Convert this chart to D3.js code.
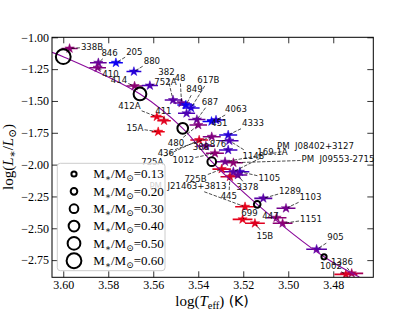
<!DOCTYPE html>
<html>
<head>
<meta charset="utf-8">
<script src="https://cdn.jsdelivr.net/npm/d3@7"></script>
<style>
	body { margin: 0; background: #fff; }
	svg { display: block; }
</style>
</head>
<body>
<svg id="chart" width="415" height="312"></svg>
<script>
// stars: names, log Teff, log L, Teff error, colour value (0 = red, 1 = blue)
let names	= ['338B', '846', '410', '205', '880', '414', '752A', '382', '48', '849', '617B', '', '687', '412A', '411', '15A', '4063', '451', '4333', '480', '436', '725A', '1012', '388', '876', '1148', 'PM  J08402+3127', 'PM  J09553-2715', '169.1A', '1105', '725B', '445', '3378', 'PM  J21463+3813', '699', '15B', '1289', '1103', '447', '1151', '905', '1386', '1002'];
let logT	= [3.5972, 3.5844, 3.5847, 3.5766, 3.5686, 3.5683, 3.5615, 3.5512, 3.5474, 3.5455, 3.5432, 3.5452, 3.5406, 3.5584, 3.5552, 3.5578, 3.5321, 3.5341, 3.5267, 3.5400, 3.5340, 3.5396, 3.5326, 3.5366, 3.5267, 3.5262, 3.5281, 3.5244, 3.5244, 3.5215, 3.5296, 3.5259, 3.5224, 3.5192, 3.5203, 3.5148, 3.5111, 3.5010, 3.5052, 3.5025, 3.4874, 3.4718, 3.4744];
let logL	= [-1.088, -1.200, -1.239, -1.200, -1.269, -1.383, -1.379, -1.493, -1.516, -1.532, -1.555, -1.597, -1.646, -1.624, -1.655, -1.742, -1.650, -1.661, -1.767, -1.689, -1.781, -1.807, -1.911, -1.854, -1.885, -1.812, -1.977, -1.985, -2.056, -2.056, -2.035, -2.095, -2.082, -2.331, -2.430, -2.461, -2.265, -2.343, -2.417, -2.461, -2.665, -2.854, -2.862];
let errT	= [.0036, .0037, .0037, .0031, .0033, .0036, .0036, .0037, .0037, .0038, .0038, .0038, .0038, .0028, .0030, .0029, .0040, .0040, .0040, .0039, .0040, .0039, .0040, .0040, .0041, .0041, .0041, .0042, .0042, .0042, .0041, .0042, .0042, .0044, .0044, .0044, .0040, .0042, .0044, .0044, .0046, .0051, .0051];
let cval	= [.45, .6, .5, .95, .85, .45, .7, .65, .6, .95, .85, .7, .6, .1, .12, .08, .85, .95, .85, .5, .5, .15, .45, .55, .75, .7, .55, .45, .65, .75, .15, .2, .6, .1, .1, .12, .65, .55, .45, .45, .65, .35, .15];

// where each name is written (data coords)
let labelT	= [3.5872, 3.5794, 3.5790, 3.5684, 3.5606, 3.5752, 3.5546, 3.5541, 3.5481, 3.5417, 3.5355, null, 3.5348, 3.5706, 3.5555, 3.5681, 3.5232, 3.5306, 3.5157, 3.5499, 3.5544, 3.5604, 3.5466, 3.5388, 3.5312, 3.5155, 3.4879, 3.4779, 3.5070, 3.5084, 3.5412, 3.5264, 3.5181, 3.5446, 3.5172, 3.5104, 3.4992, 3.4901, 3.5079, 3.4899, 3.4790, 3.4761, 3.4810];
let labelL	= [-1.076, -1.121, -1.288, -1.113, -1.184, -1.335, -1.349, -1.275, -1.316, -1.408, -1.335, null, -1.506, -1.540, -1.579, -1.715, -1.563, -1.671, -1.673, -1.833, -1.907, -1.977, -1.964, -1.858, -1.838, -1.930, -1.852, -1.958, -1.901, -2.108, -2.115, -2.247, -2.178, -2.166, -2.378, -2.559, -2.205, -2.252, -2.404, -2.430, -2.571, -2.763, -2.794];

// model track and mass points
let trackT	= [3.605, 3.600, 3.5659, 3.5469, 3.534, 3.5138, 3.4841, 3.4684];
let trackL	= [-1.118, -1.152, -1.445, -1.715, -1.977, -2.312, -2.724, -2.883];
let masses	= [0.13, 0.20, 0.30, 0.40, 0.50, 0.60];
let massT	= [3.4841, 3.5138, 3.534, 3.5469, 3.5659, 3.600];
let massL	= [-2.724, -2.312, -1.977, -1.715, -1.445, -1.152];

let xTicks	= [3.60, 3.58, 3.56, 3.54, 3.52, 3.50, 3.48];
let yTicks	= [-1.00, -1.25, -1.50, -1.75, -2.00, -2.25, -2.50, -2.75];

let svg		= d3.select('#chart');
let pLeft	= 52, pRight = 373.3, pTop = 37.3, pBottom = 277.3;

let x		= d3.scaleLinear().domain([3.605, 3.4622]).range([pLeft, pRight]);
let y		= d3.scaleLinear().domain([-1.0, -2.885]).range([pTop, pBottom]);
let color	= d3.scaleLinear().domain([0, 1]).range(['#ff0000', '#0000ff']);
let radius	= d3.scaleLinear().domain([0.13, 0.60]).range([2.6, 7.4]);

let serif	= '"Liberation Serif", "DejaVu Serif", serif';
let sans	= '"DejaVu Sans", sans-serif';

svg.append('clipPath').attr('id', 'plotclip').append('rect').attr('x', pLeft).attr('y', pTop).attr('width', pRight - pLeft).attr('height', pBottom - pTop);

// axes, ticks pointing in
function drawAxis(axis, tx, ty, labels) {
	let g = svg.append('g').attr('transform', 'translate(' + tx + ',' + ty + ')').call(axis);
	g.select('.domain').remove();
	g.selectAll('line').attr('stroke', '#000').attr('stroke-width', 0.8);
	g.selectAll('text').attr('font-family', serif).attr('font-size', 12).attr('fill', '#000');
	if (!labels) g.selectAll('text').remove();
}

drawAxis(d3.axisBottom(x).tickValues(xTicks).tickSize(-6).tickPadding(3.5).tickFormat(d3.format('.2f')), 0, pBottom, true);
drawAxis(d3.axisTop(x).tickValues(xTicks).tickSize(-6), 0, pTop, false);
drawAxis(d3.axisLeft(y).tickValues(yTicks).tickSize(-6).tickPadding(3).tickFormat(d3.format('.2f')), pLeft, 0, true);
drawAxis(d3.axisRight(y).tickValues(yTicks).tickSize(-6), pRight, 0, false);

let plot	= svg.append('g').attr('clip-path', 'url(#plotclip)');
let idx		= d3.range(names.length);

// error bars and stars
plot.append('g').selectAll('line').data(idx).join('line')
	.attr('x1', i => x(logT[i] + errT[i])).attr('x2', i => x(logT[i] - errT[i]))
	.attr('y1', i => y(logL[i])).attr('y2', i => y(logL[i]))
	.attr('stroke', i => color(cval[i])).attr('stroke-width', 1.6);

plot.append('g').selectAll('path').data(idx).join('path')
	.attr('transform', i => 'translate(' + x(logT[i]) + ',' + y(logL[i]) + ')')
	.attr('d', d3.symbol(d3.symbolStar, 27))
	.attr('fill', i => color(cval[i])).attr('stroke', i => color(cval[i])).attr('stroke-width', 0.5);

// model track
plot.append('path').datum(d3.range(trackT.length))
	.attr('d', d3.line().x(i => x(trackT[i])).y(i => y(trackL[i])).curve(d3.curveCatmullRom))
	.attr('fill', 'none').attr('stroke', '#8a0a9a').attr('stroke-width', 1.1);

plot.append('g').selectAll('circle').data(d3.range(masses.length)).join('circle')
	.attr('cx', i => x(massT[i])).attr('cy', i => y(massL[i])).attr('r', i => radius(masses[i]))
	.attr('fill', 'none').attr('stroke', '#000').attr('stroke-width', 2);

// labels with dashed leader lines from the star to the text box
let labels	= svg.append('g');

idx.filter(i => names[i] !== '').forEach(i => {
	let text	= labels.append('text').attr('x', x(labelT[i])).attr('y', y(labelL[i])).attr('text-anchor', 'middle').attr('dominant-baseline', 'central')
		.attr('font-family', sans).attr('font-size', 8.6).attr('fill', '#111').attr('xml:space', 'preserve').text(names[i]);
	let bbox	= text.node().getBBox();
	let cx		= bbox.x + bbox.width / 2, cy = bbox.y + bbox.height / 2;
	let px		= x(logT[i]), py = y(logL[i]);
	let dx		= px - cx, dy = py - cy;
	let t		= Math.min((bbox.width / 2 + 1) / Math.abs(dx || 1e-9), (bbox.height / 2 + 1) / Math.abs(dy || 1e-9));

	if (t < 1) {
		let len		= Math.hypot(dx, dy);
		let s		= Math.max(0, 1 - 2 / len);
		labels.insert('line', 'text').attr('x1', cx + dx * t).attr('y1', cy + dy * t).attr('x2', cx + dx * s).attr('y2', cy + dy * s)
			.attr('stroke', '#000').attr('stroke-width', 0.7).attr('stroke-dasharray', '3.5,1.5');
	}
});

// legend
let legend	= svg.append('g');
legend.append('rect').attr('x', 57.3).attr('y', 163.3).attr('width', 107.7).attr('height', 107.4).attr('rx', 3)
	.attr('fill', '#fff').attr('fill-opacity', 0.8).attr('stroke', '#cccccc').attr('stroke-width', 1);

masses.forEach((m, i) => {
	let ly		= 174 + i * 17.35;
	legend.append('circle').attr('cx', 74).attr('cy', ly).attr('r', radius(m)).attr('fill', 'none').attr('stroke', '#000').attr('stroke-width', 2);

	let t		= legend.append('text').attr('x', 93.3).attr('y', ly + 4.3).attr('font-family', serif).attr('font-size', 13).attr('fill', '#000');
	t.append('tspan').text('M');
	t.append('tspan').attr('dy', 3).attr('font-size', 9).text('∗');
	t.append('tspan').attr('dy', -3).text('/M');
	t.append('tspan').attr('dy', 3).attr('font-size', 9).text('⊙');
	t.append('tspan').attr('dy', -3).text('=' + d3.format('.2f')(m));
});

// spines
svg.append('rect').attr('x', pLeft).attr('y', pTop).attr('width', pRight - pLeft).attr('height', pBottom - pTop).attr('fill', 'none').attr('stroke', '#000').attr('stroke-width', 1);

// axis titles
let xl		= svg.append('text').attr('x', 212).attr('y', 306).attr('text-anchor', 'middle').attr('font-family', serif).attr('font-size', 15).attr('fill', '#000');
xl.append('tspan').text('log(');
xl.append('tspan').attr('font-style', 'italic').text('T');
xl.append('tspan').attr('dy', 3).attr('font-size', 10.5).text('eff');
xl.append('tspan').attr('dy', -3).text(')');
xl.append('tspan').attr('font-family', sans).attr('font-size', 14).text(' (K)');

let yl		= svg.append('text').attr('transform', 'translate(13,157) rotate(-90)').attr('text-anchor', 'middle').attr('font-family', serif).attr('font-size', 15).attr('fill', '#000');
yl.append('tspan').text('log(');
yl.append('tspan').attr('font-style', 'italic').text('L');
yl.append('tspan').attr('dy', 3).attr('font-size', 10.5).text('∗');
yl.append('tspan').attr('dy', -3).text('/');
yl.append('tspan').attr('font-style', 'italic').text('L');
yl.append('tspan').attr('dy', 3).attr('font-size', 10.5).text('⊙');
yl.append('tspan').attr('dy', -3).text(')');
</script>
</body>
</html>
